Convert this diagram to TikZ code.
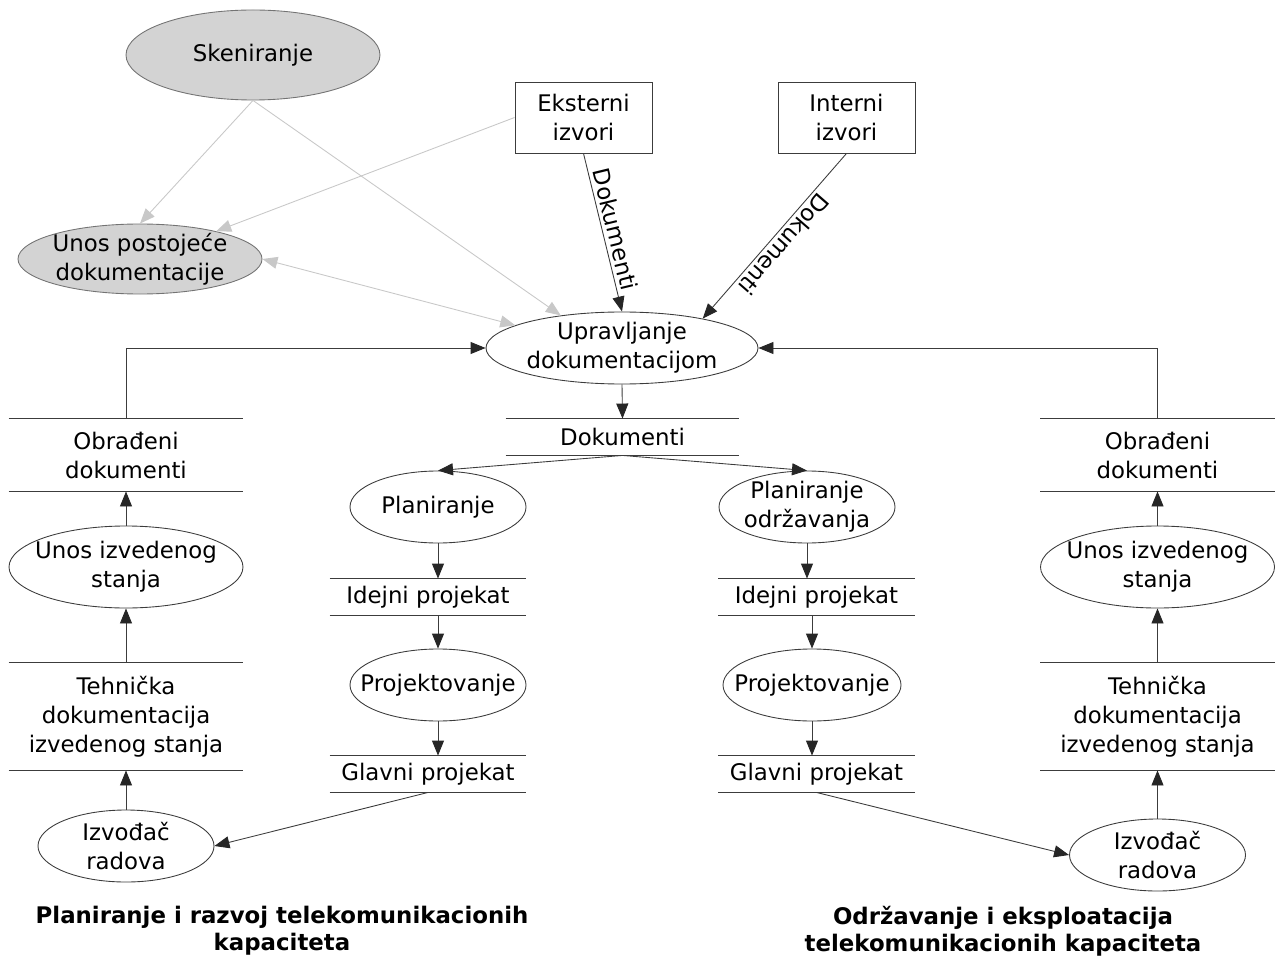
\documentclass[tikz,border=0pt]{standalone}
\usepackage{fontspec}
\setmainfont{DejaVu Sans}
\usetikzlibrary{shapes.geometric,arrows.meta,positioning}
\definecolor{lnc}{RGB}{60,60,60}
\definecolor{shade}{RGB}{211,211,211}
\definecolor{faint}{RGB}{200,200,200}

\begin{document}
\begin{tikzpicture}[x=0.2mm, y=-0.2mm, line width=0.5pt,
      font=\fontsize{13}{16.5}\selectfont,
      proc/.style={ellipse, draw=lnc, inner xsep=-4mm, inner ysep=-1mm, minimum width=35.2mm, minimum height=14.4mm, align=center},
      grayproc/.style={proc, fill=shade, draw=black!55},
      src/.style={rectangle, draw=lnc, minimum width=27.4mm, minimum height=14.2mm, align=center},
      store/.style={inner sep=0pt, minimum width=39.2mm, minimum height=7.2mm, align=center,
          append after command={(\tikzlastnode.north west) edge[draw=lnc] (\tikzlastnode.north east)
                                (\tikzlastnode.south west) edge[draw=lnc] (\tikzlastnode.south east)}},
      flow/.style={draw=lnc, -{Triangle[length=3mm, width=2.4mm, color=black!85]}},
      faintflow/.style={draw=faint, -{Triangle[length=3mm, width=2.4mm]}},
      title/.style={font=\fontsize{13}{15.5}\selectfont\bfseries, align=center},
      ]
      \useasboundingbox (0,0) rectangle (1275,960);

      % top: sources and scanning
      \node[grayproc, minimum width=50.8mm, minimum height=18mm] (skn) at (253,55) {Skeniranje};
      \node[grayproc, minimum width=48.8mm, minimum height=14mm] (unp) at (140,259) {Unos postojeće\\dokumentacije};
      \node[src] (ext) at (583.5,117.5) {Eksterni\\izvori};
      \node[src] (int) at (846.5,117.5) {Interni\\izvori};
      \node[proc, minimum width=54.4mm] (upr) at (622,348) {Upravljanje\\dokumentacijom};

      \draw[faintflow] (skn.south) -- (unp.north);
      \draw[faintflow] (skn.south) -- (upr.152);
      \draw[faintflow] (ext.west) -- (unp.20);
      \draw[draw=faint, {Triangle[length=3mm, width=2.4mm]}-{Triangle[length=3mm, width=2.4mm]}] (unp.east) -- (upr.168);

      \draw[flow] (ext.south) -- node[sloped, above, inner sep=2pt] (lbe) {Dokumenti} (upr.north);
      \draw[flow] (int.south) -- node[sloped, allow upside down, above, inner sep=2pt] (lbi) {Dokumenti} (upr.20);

      % documents store
      \node[store, minimum width=46.6mm] (dok) at (622.5,437) {Dokumenti};
      \draw[flow] (upr.south) -- (dok.north);

      % planning chain
      \node[proc] (pl1) at (438,507) {Planiranje};
      \node[store] (ide1) at (428,597) {Idejni projekat};
      \node[proc] (prj1) at (438,685) {Projektovanje};
      \node[store] (glv1) at (428,774) {Glavni projekat};

      \node[proc] (pl2) at (807,507) {Planiranje\\održavanja};
      \node[store] (ide2) at (816.5,597) {Idejni projekat};
      \node[proc, minimum width=35.6mm] (prj2) at (812,685) {Projektovanje};
      \node[store] (glv2) at (816.5,774) {Glavni projekat};

      \draw[flow] (dok.south) -- (pl1.north);
      \draw[flow] (dok.south) -- (pl2.north);
      \draw[flow] (pl1.south) -- (pl1.south |- ide1.north);
      \draw[flow] (ide1.south -| prj1.north) -- (prj1.north);
      \draw[flow] (prj1.south) -- (prj1.south |- glv1.north);
      \draw[flow] (pl2.south) -- (pl2.south |- ide2.north);
      \draw[flow] (ide2.south -| prj2.north) -- (prj2.north);
      \draw[flow] (prj2.south) -- (prj2.south |- glv2.north);

      % left column
      \node[proc, minimum width=46.8mm, minimum height=16.4mm] (uiz1) at (126,567) {Unos izvedenog\\stanja};
      \node[store, minimum width=46.8mm, minimum height=14.4mm, above of=uiz1, node distance=22.4mm] (obr1) {Obrađeni\\dokumenti};
      \node[store, minimum width=46.8mm, minimum height=21.4mm, below of=uiz1, node distance=29.9mm] (teh1) {Tehnička\\dokumentacija\\izvedenog stanja};
      \node[proc, below of=teh1, node distance=25.9mm] (izv1) {Izvođač\\radova};

      % right column
      \node[proc, minimum width=46.8mm, minimum height=16.4mm] (uiz2) at (1157.5,567) {Unos izvedenog\\stanja};
      \node[store, minimum width=46.8mm, minimum height=14.4mm, above of=uiz2, node distance=22.4mm] (obr2) {Obrađeni\\dokumenti};
      \node[store, minimum width=46.8mm, minimum height=21.4mm, below of=uiz2, node distance=29.9mm] (teh2) {Tehnička\\dokumentacija\\izvedenog stanja};
      \node[proc, below of=teh2, node distance=27.7mm] (izv2) {Izvođač\\radova};

      \draw[flow] (glv1.south) -- (izv1.east);
      \draw[flow] (izv1) -- (teh1);
      \draw[flow] (teh1) -- (uiz1);
      \draw[flow] (uiz1) -- (obr1);
      \draw[flow] (obr1.north) |- (upr.west);

      \draw[flow] (glv2.south) -- (izv2.west);
      \draw[flow] (izv2) -- (teh2);
      \draw[flow] (teh2) -- (uiz2);
      \draw[flow] (uiz2) -- (obr2);
      \draw[flow] (obr2.north) |- (upr.east);

      % titles
      \node[title] (ttl1) at (282,931) {Planiranje i razvoj telekomunikacionih\\kapaciteta};
      \node[title] (ttl2) at (1003,931) {Održavanje i eksploatacija\\telekomunikacionih kapaciteta};

    \end{tikzpicture}
\end{document}
